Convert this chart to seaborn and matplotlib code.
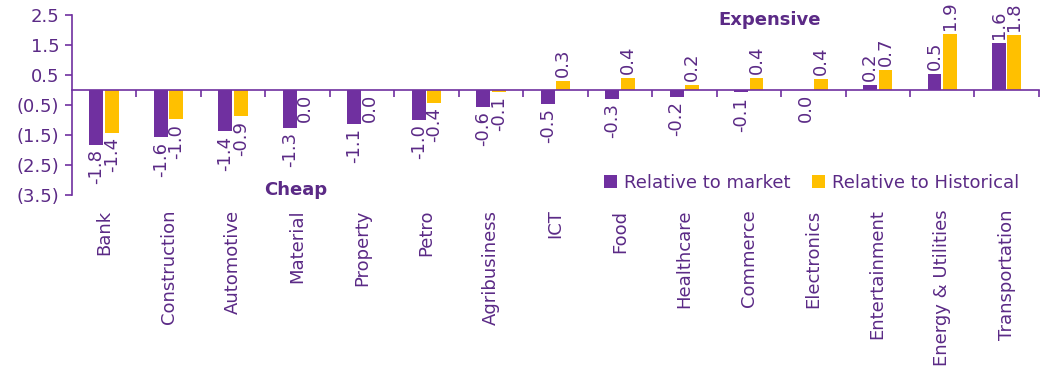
import matplotlib
matplotlib.use("Agg")
import matplotlib.pyplot as plt
import matplotlib.ticker as mticker
import numpy as np
import pandas as pd
import seaborn as sns

# ---- data ----
sectors = ["Bank", "Construction", "Automotive", "Material", "Property", "Petro",
           "Agribusiness", "ICT", "Food", "Healthcare", "Commerce", "Electronics",
           "Entertainment", "Energy & Utilities", "Transportation"]
rel_market = [-1.84, -1.58, -1.38, -1.27, -1.14, -1.0, -0.57, -0.47, -0.3, -0.24,
              -0.08, 0.0, 0.16, 0.52, 1.57]
rel_hist = [-1.43, -0.98, -0.88, 0.0, 0.0, -0.42, -0.06, 0.3, 0.4, 0.18,
            0.4, 0.36, 0.66, 1.86, 1.84]
series_names = ["Relative to market", "Relative to Historical"]
y_ticks = [2.5, 1.5, 0.5, -0.5, -1.5, -2.5, -3.5]

PURPLE = "#7030A0"
YELLOW = "#FFC000"
TXT = "#5B2A86"

sns.set_theme(style="white")
plt.rcParams["font.family"] = ["DejaVu Sans"]

df = pd.DataFrame({
    "sector": sectors * 2,
    "value": rel_market + rel_hist,
    "series": [series_names[0]] * len(sectors) + [series_names[1]] * len(sectors),
})

fig = plt.figure(figsize=(10.41, 3.69), dpi=100)
ax = fig.add_axes([0.069, 0.4715, 0.929, 0.4875])

sns.barplot(data=df, x="sector", y="value", hue="series", order=sectors,
            hue_order=series_names, palette=[PURPLE, YELLOW], saturation=1,
            width=0.48, gap=0.1, linewidth=0, ax=ax)

ax.set_ylim(-3.5, 2.5)
ax.set_xlim(-0.5, len(sectors) - 0.5)
ax.set_yticks(y_ticks)
ax.yaxis.set_major_formatter(mticker.FuncFormatter(
    lambda v, p: f"({abs(v):.1f})" if v < 0 else f"{v:.1f}"))
ax.set_xlabel("")
ax.set_ylabel("")

for s in ["top", "right"]:
    ax.spines[s].set_visible(False)
ax.spines["left"].set_color(PURPLE)
ax.spines["left"].set_linewidth(1.2)
ax.spines["bottom"].set_position(("data", 0))
ax.spines["bottom"].set_color(PURPLE)
ax.spines["bottom"].set_linewidth(1.2)

ax.tick_params(axis="y", which="major", direction="out", length=5, width=1.2,
               color=PURPLE, labelcolor=TXT, labelsize=13, left=True, pad=4)
ax.tick_params(axis="x", which="major", length=0, labelsize=13, labelcolor=TXT,
               labelrotation=90, pad=86)
ax.set_xticks(range(len(sectors)))
ax.set_xticks(np.arange(0.5, len(sectors), 1.0), minor=True)
ax.tick_params(axis="x", which="minor", direction="out", length=5, width=1.2,
               color=PURPLE, bottom=True)

# data labels
for cont, vals in zip(ax.containers, [rel_market, rel_hist]):
    for patch, v in zip(cont.patches, vals):
        xc = patch.get_x() + patch.get_width() / 2
        top = patch.get_y() + patch.get_height() if v > 0 else patch.get_y()
        if v > 0:
            ax.annotate(f"{v:.1f}", (xc, max(patch.get_y(), patch.get_y() + patch.get_height())),
                        xytext=(0, 3), textcoords="offset points", rotation=90,
                        ha="center", va="bottom", fontsize=13, color=TXT)
        else:
            ax.annotate(f"{v:.1f}", (xc, min(patch.get_y(), patch.get_y() + patch.get_height())),
                        xytext=(0, -3), textcoords="offset points", rotation=90,
                        ha="center", va="top", fontsize=13, color=TXT)

ax.text(0.722, 0.972, "Expensive", transform=ax.transAxes, ha="center", va="center",
        fontsize=13, fontweight="bold", color=TXT)
ax.text(0.231, 0.028, "Cheap", transform=ax.transAxes, ha="center", va="center",
        fontsize=13, fontweight="bold", color=TXT)

handles, labels = ax.get_legend_handles_labels()
leg = ax.legend(handles, labels, loc="center right", bbox_to_anchor=(0.98, 0.067),
                ncol=2, frameon=False, fontsize=13, handlelength=0.7, handleheight=0.7,
                handletextpad=0.4, columnspacing=1.2, borderpad=0, borderaxespad=0)
for t in leg.get_texts():
    t.set_color(TXT)

fig.savefig("out.png", dpi=100)
